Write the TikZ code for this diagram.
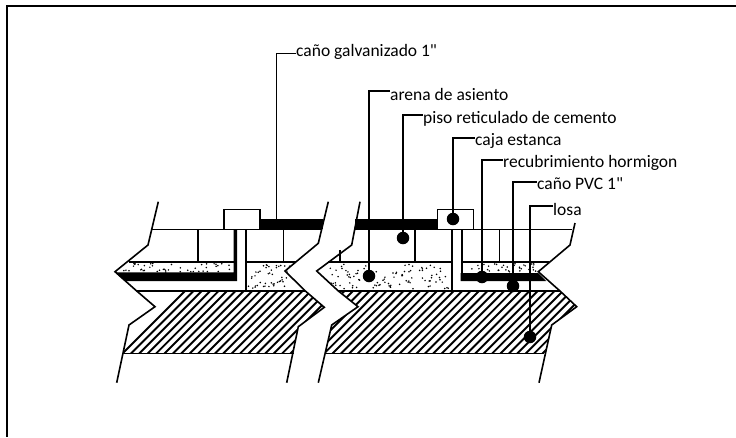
\documentclass[tikz,border=0pt]{standalone}
\usepackage{fontspec}
\newfontfamily\lblfont{Carlito}
\tikzset{
  x=1pt,y=-1pt,
  ln/.style={line width=1.6pt,line join=miter},
  lead/.style={line width=1.4pt},
  lbl/.style={anchor=west,inner sep=0pt,font=\lblfont\fontsize{17.5}{17.5}\selectfont},
  bead/.style={circle,fill=black,inner sep=0pt,minimum size=12.5pt},
}
\begin{document}
\begin{tikzpicture}
\useasboundingbox (0,0) rectangle (736,437);
\fill[white] (0,0) rectangle (736,437);
\draw[line width=1.6pt] (736,6.2) -- (7,6.2) -- (7,437);

% hatching
\begin{scope}
\clip (136,291) -- (560,291) -- (576.7,306.7) -- (551.7,325) -- (545,353) -- (123,353) -- (129,325) -- (155,306.7) -- cycle;
\foreach \i in {0,...,60}{
  \draw[line width=1.9pt] ({120+\i*8.4},356) -- ({120+\i*8.4+68},288);
}
\end{scope}
% break band
\fill[white] (324.3,307.3) -- (305,290.7) -- (285,271) -- (318.3,243.3) -- (328.3,201.7) -- (360,201.7) -- (351.7,245) -- (316.7,271) -- (338,290) -- (358,306.7) -- (331.7,325) -- (318.3,382.7) -- (286.7,382.7) -- (298.3,326.7) -- cycle;

% stipple
\pgfmathsetseed{17}
\foreach \i in {1,...,45}{\fill ({122+rnd*110},{263+rnd*9}) circle (0.85pt);}
\foreach \i in {1,...,45}{\fill ({248+rnd*42},{264+rnd*25}) circle (0.85pt);}
\foreach \i in {1,...,100}{\fill ({328+rnd*122},{264+rnd*25}) circle (0.85pt);}
\foreach \i in {1,...,32}{\fill ({464+rnd*72},{263+rnd*9}) circle (0.85pt);}

% pipes
\fill[black] (260,219.3) rectangle (322.5,229.3);
\fill[black] (355,219.3) rectangle (437.3,229.3);
\fill[black] (115,272.3) -- (233.5,272.3) -- (233.5,229.3) -- (237,229.3) -- (237,281) -- (125,281) -- cycle;
\fill[black] (460.5,229.3) rectangle (463,273);
\fill[black] (460.5,273) -- (538,273) -- (546,281) -- (460.5,281) -- cycle;

% floor lines
\draw[ln] (151.7,229.3) -- (224,229.3);
\draw[ln] (260,229.3) -- (322,229.3);
\draw[ln] (354,229.3) -- (437.3,229.3);
\draw[ln] (473.3,229.3) -- (571.7,229.3);
% tile joints
\draw[ln] (198,229.3) -- (198,261.7);
\draw[ln] (283.3,229.3) -- (283.3,261.7);
\draw[ln] (340,250) -- (340,261.7);
\draw[ln] (415,229.3) -- (415,261.7);
\draw[ln] (499.3,229.3) -- (499.3,261.7);
% layer lines
\draw[ln] (129,261.7) -- (234,261.7);
\draw[ln] (245.7,261.7) -- (296,261.7);
\draw[ln] (328,261.7) -- (452,261.7);
\draw[ln] (461.7,261.7) -- (549,261.7);
\draw[ln] (136,290.7) -- (305,290.7);
\draw[ln] (338,290.7) -- (560,290.7);
\draw[ln] (123,353.3) -- (294,353.3);
\draw[ln] (326,353.3) -- (544,353.3);
% pipe risers
\draw[ln] (245.7,229.3) -- (245.7,290.7);
\draw[ln] (452,229.3) -- (452,290.7);

% boxes
\draw[ln,fill=white] (224,209.3) rectangle (260,229.3);
\draw[ln,fill=white] (437.3,209.3) rectangle (473.3,229.3);

% break outlines
\draw[ln] (158.3,201.7) -- (148,245) -- (115,271.7) -- (136.7,291) -- (155,306.7) -- (129,325) -- (116.7,382.7);
\draw[ln] (328.3,201.7) -- (318.3,243.3) -- (285,271) -- (305,290.7) -- (324.3,307.3) -- (298.3,326.7) -- (286.7,382.7);
\draw[ln] (360,201.7) -- (351.7,245) -- (316.7,271) -- (338,290.7) -- (358,306.7) -- (331.7,325) -- (318.3,382.7);
\draw[ln] (575,223) -- (570,245) -- (538.3,271.7) -- (560,291) -- (576.7,306.7) -- (551.7,325) -- (539,382.7);

% labels
\node[lbl] (galv) at (296,52) {caño galvanizado 1"};
\node[lbl] (arena) at (390,94) {arena de asiento};
\node[lbl] (piso) at (423,119) {piso reticulado de cemento};
\node[lbl] (caja) at (475,141) {caja estanca};
\node[lbl] (recub) at (503,163) {recubrimiento hormigon};
\node[lbl] (pvc) at (537,184) {caño PVC 1"};
\node[lbl] (losa) at (553,209) {losa};

% targets
\coordinate (tgalv) at (276.5,220);
\node[bead] (tarena) at (369,276) {};
\node[bead] (tpiso) at (403,238) {};
\node[bead] (tcaja) at (453,219) {};
\node[bead] (trecub) at (482,277) {};
\node[bead] (tpvc) at (513,286) {};
\node[bead] (tlosa) at (530,337) {};

% leaders
\draw[lead] (galv.west) ++(0,1.5) -| (tgalv);
\draw[lead] (arena.west) ++(0,-3) -| (tarena.center);
\draw[lead] (piso.west) ++(0,-4) -| (tpiso.center);
\draw[lead] (caja.west) ++(0,-3) -| (tcaja.center);
\draw[lead] (recub.west) ++(0,-3) -| (trecub.center);
\draw[lead] (pvc.west) ++(0,-2) -| (tpvc.center);
\draw[lead] (losa.west) ++(0,-3) -| (tlosa.center);
\end{tikzpicture}
\end{document}
